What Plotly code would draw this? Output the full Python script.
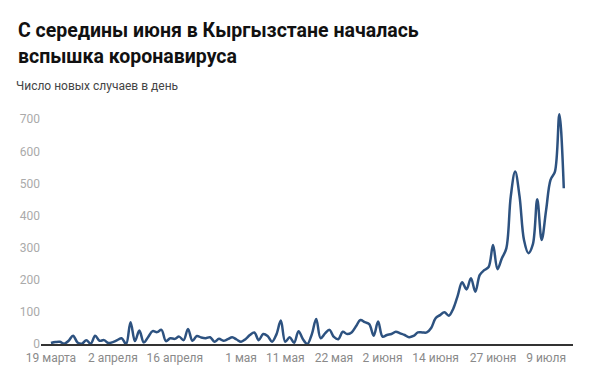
import plotly.graph_objects as go
import pandas as pd

start_date = "2020-03-19"
new_cases = [3, 6, 7, 1, 10, 26, 5, 1, 12, 1,
             26, 10, 12, 3, 6, 12, 18, 0, 68, 9,
             42, 5, 22, 40, 37, 44, 9, 18, 16, 23,
             12, 47, 10, 25, 20, 18, 21, 7, 16, 10,
             15, 21, 14, 7, 15, 28, 36, 12, 31, 25,
             7, 30, 73, 7, 21, 4, 40, 15, 0, 30,
             78, 18, 33, 44, 22, 15, 38, 31, 36, 55,
             75, 68, 62, 26, 70, 23, 28, 31, 38, 33,
             28, 21, 25, 36, 36, 36, 50, 80, 90, 99,
             88, 110, 150, 192, 170, 205, 163, 215, 230, 240,
             308, 233, 267, 298, 459, 537, 459, 324, 283, 310,
             451, 324, 417, 511, 537, 716, 485]

dates = pd.date_range(start_date, periods=len(new_cases), freq="D")

tick_dates = ["2020-03-19", "2020-04-02", "2020-04-16", "2020-05-01", "2020-05-11",
              "2020-05-22", "2020-06-02", "2020-06-14", "2020-06-27", "2020-07-09"]
tick_labels = ["19 марта", "2 апреля", "16 апреля", "1 мая", "11 мая",
               "22 мая", "2 июня", "14 июня", "27 июня", "9 июля"]
y_ticks = [0, 100, 200, 300, 400, 500, 600, 700]

title_lines = ["С середины июня в Кыргызстане началась", "вспышка коронавируса"]
subtitle = "Число новых случаев в день"

W, H = 593, 380
L, R, T, B = 41, 20, 100, 36
PW, PH = W - L - R, H - T - B


def px_x(x):
    return (x - L) / PW


def px_y(y):
    return (H - B - y) / PH


fig = go.Figure()
fig.add_trace(go.Scatter(
    x=dates, y=new_cases, mode="lines",
    line=dict(color="#2d5280", width=2.5, shape="spline", smoothing=1.0),
    hoverinfo="x+y"))

annotations = [
    dict(text="<b>" + title_lines[0] + "</b>", xref="paper", yref="paper",
         x=px_x(16), y=px_y(30), xanchor="left", yanchor="middle", showarrow=False,
         font=dict(size=19.5, color="#111111")),
    dict(text="<b>" + title_lines[1] + "</b>", xref="paper", yref="paper",
         x=px_x(16), y=px_y(56), xanchor="left", yanchor="middle", showarrow=False,
         font=dict(size=19.5, color="#111111")),
    dict(text=subtitle, xref="paper", yref="paper",
         x=px_x(14), y=px_y(86), xanchor="left", yanchor="middle", showarrow=False,
         font=dict(size=12, color="#444444")),
]

fig.update_layout(
    width=W, height=H,
    margin=dict(l=L, r=R, t=T, b=B),
    paper_bgcolor="white", plot_bgcolor="white",
    font=dict(family="Roboto, Arial, sans-serif"),
    showlegend=False,
    xaxis=dict(
        type="date",
        range=["2020-03-16 18:00", "2020-07-15 02:00"],
        tickvals=tick_dates, ticktext=tick_labels,
        showgrid=False, zeroline=False,
        showline=True, linecolor="#333333", linewidth=1.5,
        ticks="", ticklabelstandoff=2,
        tickfont=dict(size=12, color="#8a8a8a")),
    yaxis=dict(
        range=[0, 760],
        tickvals=y_ticks,
        showgrid=False, zeroline=False, showline=False,
        ticks="", tickfont=dict(size=12, color="#aaaaaa")),
    annotations=annotations,
)

fig.write_html("out.html", config={"displayModeBar": False},
               post_script="document.body.style.margin='0';")
